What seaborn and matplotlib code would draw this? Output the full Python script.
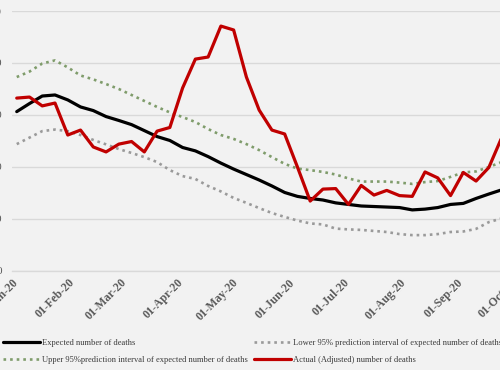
import matplotlib
matplotlib.use("Agg")
import matplotlib.pyplot as plt
import matplotlib.dates as mdates
import matplotlib.transforms as mtransforms
from matplotlib.lines import Line2D
import seaborn as sns
import pandas as pd
import numpy as np

# ---- data (weekly) ----
start_date = "2020-01-01"
n_weeks = 39

expected = [613, 644, 673, 677, 658, 631, 617, 594, 579, 563, 540, 517, 502, 475,
            462, 440, 415, 392, 371, 350, 327, 302, 287, 279, 273, 262, 256, 250,
            248, 246, 244, 235, 238, 244, 256, 260, 279, 296, 312]
upper95 = [746, 767, 798, 810, 783, 752, 737, 719, 700, 677, 654, 631, 610, 592,
           573, 546, 523, 508, 488, 465, 438, 412, 394, 388, 381, 371, 356, 344,
           344, 344, 340, 335, 342, 346, 362, 379, 383, 400, 419]
lower95 = [488, 513, 538, 544, 538, 523, 504, 487, 469, 454, 438, 419, 388, 365,
           354, 327, 306, 281, 262, 242, 223, 208, 194, 183, 179, 163, 160, 158,
           154, 150, 142, 138, 138, 142, 150, 152, 162, 188, 202]
actual = [665, 669, 635, 646, 523, 542, 477, 458, 488, 498, 458, 538, 552, 704,
          815, 823, 942, 927, 746, 619, 542, 527, 400, 269, 315, 317, 256, 329,
          292, 310, 290, 287, 381, 358, 290, 379, 346, 398, 512]

labels = ["Expected number of deaths",
          "Upper 95%prediction interval of expected number of deaths",
          "Lower 95% prediction interval of expected number of deaths",
          "Actual (Adjusted) number of deaths"]

dates = pd.date_range(start_date, periods=n_weeks, freq="7D")
df = pd.DataFrame({"date": dates, "expected": expected, "upper": upper95,
                   "lower": lower95, "actual": actual})

sns.set_theme(style="white")
plt.rcParams["font.family"] = ["Liberation Serif", "DejaVu Serif"]

BG = "#f2f2f2"
W, H = 500, 370
fig = plt.figure(figsize=(5, 3.7), dpi=100, facecolor=BG)
ax = fig.add_axes([12 / W, (H - 271) / H, 588 / W, 260 / H])
ax.set_facecolor(BG)

dot = (0, (1, 1.5))
C_UP, C_LO, C_ACT = "#7f9c6b", "#9a9a9a", "#c00000"
sns.lineplot(data=df, x="date", y="expected", ax=ax, color="black", lw=2.3)
sns.lineplot(data=df, x="date", y="upper", ax=ax, color=C_UP, lw=1.9, linestyle=dot)
sns.lineplot(data=df, x="date", y="lower", ax=ax, color=C_LO, lw=1.9, linestyle=dot)
sns.lineplot(data=df, x="date", y="actual", ax=ax, color=C_ACT, lw=2.3)

ax.set_ylim(0, 1000)
ax.set_yticks(np.arange(0, 1001, 200))
ax.set_yticklabels([f"{v:,}" for v in range(0, 1001, 200)])
x0 = pd.Timestamp(start_date)
ax.set_xlim(x0 - pd.Timedelta(days=2.6), x0 + pd.Timedelta(days=320))
ax.xaxis.set_major_locator(mdates.MonthLocator())
ax.xaxis.set_major_formatter(mdates.DateFormatter("%d-%b-%y"))
ax.grid(axis="y", color="#d9d9d9", lw=1)
ax.grid(axis="x", visible=False)
for s in ["top", "right", "left"]:
    ax.spines[s].set_visible(False)
ax.spines["bottom"].set_color("#d9d9d9")
ax.spines["bottom"].set_linewidth(1)
ax.set_xlabel("")
ax.set_ylabel("")
ax.tick_params(axis="y", length=0, pad=7.0, labelsize=8, labelcolor="#595959")
ax.tick_params(axis="x", length=0, pad=4, labelsize=8.5, labelcolor="#595959")
offset = mtransforms.ScaledTranslation(-5 / 100, 0, fig.dpi_scale_trans)
for t in ax.get_xticklabels():
    t.set_rotation(45)
    t.set_ha("right")
    t.set_va("top")
    t.set_rotation_mode("anchor")
    t.set_fontweight("bold")
    t.set_transform(t.get_transform() + offset)

# legend
h_exp = Line2D([], [], color="black", lw=2.3)
h_up = Line2D([], [], color=C_UP, lw=1.9, linestyle=dot)
h_lo = Line2D([], [], color=C_LO, lw=1.9, linestyle=dot)
h_act = Line2D([], [], color=C_ACT, lw=2.3)
kw = dict(frameon=False, fontsize=6.1, handlelength=4.35, handletextpad=0.25,
          labelspacing=1.05, borderpad=0, borderaxespad=0, loc="upper left",
          labelcolor="#3a3a3a")
fig.legend([h_exp, h_up], labels[:2], bbox_to_anchor=(3 / W, (H - 339) / H), **kw)
fig.legend([h_lo, h_act], labels[2:], bbox_to_anchor=(254 / W, (H - 339) / H), **kw)

fig.savefig("out.png", dpi=100, facecolor=BG)
